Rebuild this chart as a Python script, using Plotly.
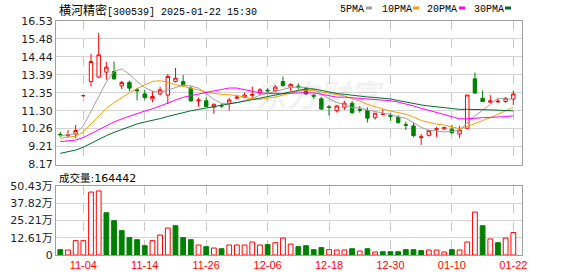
import numpy as np
import plotly.graph_objects as go

# ---------------- data ----------------
dates = ["10-30", "10-31", "11-01", "11-04", "11-05", "11-06", "11-07", "11-08", "11-11", "11-12",
         "11-13", "11-14", "11-15", "11-18", "11-19", "11-20", "11-21", "11-22", "11-25", "11-26",
         "11-27", "11-28", "11-29", "12-02", "12-03", "12-04", "12-05", "12-06", "12-09", "12-10",
         "12-11", "12-12", "12-13", "12-16", "12-17", "12-18", "12-19", "12-20", "12-23", "12-24",
         "12-25", "12-26", "12-27", "12-30", "12-31", "01-02", "01-03", "01-06", "01-07", "01-08",
         "01-09", "01-10", "01-13", "01-14", "01-15", "01-16", "01-17", "01-20", "01-21", "01-22"]

opens = [9.93, 9.85, 9.95, 12.18, 13.00, 13.26, 13.55, 13.59, 12.75, 12.95,
         12.52, 12.28, 11.99, 12.28, 12.21, 13.00, 13.00, 12.62, 11.88, 11.88,
         11.51, 11.62, 11.74, 12.03, 12.09, 12.20, 12.33, 12.50, 12.46, 13.00,
         12.67, 12.74, 12.58, 12.20, 12.00, 11.53, 11.31, 11.51, 11.74, 11.38,
         11.31, 10.90, 11.08, 11.02, 10.93, 10.50, 10.42, 9.74, 9.87, 10.20,
         10.25, 10.23, 9.95, 10.28, 13.16, 12.03, 11.80, 11.82, 11.84, 11.98]
highs = [10.07, 10.18, 10.47, 12.18, 14.62, 15.83, 14.15, 14.17, 13.05, 13.05,
         12.62, 12.52, 12.44, 12.70, 13.44, 13.79, 13.39, 12.74, 12.07, 12.07,
         11.72, 11.72, 12.05, 12.20, 12.35, 12.71, 12.62, 12.62, 12.80, 13.30,
         12.90, 12.90, 12.70, 12.30, 12.10, 11.64, 11.64, 11.88, 11.88, 11.58,
         11.50, 11.16, 11.40, 11.16, 11.05, 10.67, 10.61, 9.95, 10.18, 10.35,
         10.37, 10.48, 10.42, 12.22, 13.53, 12.48, 12.22, 12.00, 12.10, 12.48]
lows = [9.76, 9.76, 9.70, 12.18, 12.71, 13.20, 13.10, 13.10, 12.56, 12.44,
        11.90, 11.94, 11.80, 12.20, 11.70, 12.95, 12.70, 11.82, 11.54, 11.50,
        11.12, 11.47, 11.31, 11.95, 12.03, 12.03, 12.22, 12.30, 12.40, 12.70,
        12.46, 12.55, 12.22, 12.00, 11.35, 11.02, 11.20, 11.35, 11.12, 11.20,
        10.62, 10.78, 11.05, 10.72, 10.55, 10.18, 9.76, 9.31, 9.80, 9.78,
        10.20, 9.95, 9.70, 10.26, 12.30, 11.84, 11.74, 11.76, 11.76, 11.64]
closes = [9.90, 9.91, 10.15, 12.18, 14.17, 14.56, 13.84, 13.16, 12.95, 12.62,
          12.47, 12.07, 12.13, 12.52, 13.30, 13.20, 12.81, 11.88, 11.92, 11.55,
          11.68, 11.58, 11.93, 12.10, 12.22, 12.25, 12.52, 12.46, 12.68, 12.77,
          12.84, 12.68, 12.28, 12.15, 11.40, 11.50, 11.58, 11.74, 11.19, 11.33,
          10.87, 11.16, 11.10, 10.98, 10.62, 10.46, 9.85, 9.78, 10.14, 10.25,
          10.31, 10.03, 10.18, 12.22, 12.33, 11.84, 11.88, 11.86, 12.03, 12.28]
# volume in lots (手)
volumes = [39000, 36500, 105000, 105000, 460000, 468000, 309000, 251000, 178000, 127000,
           112000, 68000, 105000, 146000, 197000, 214000, 127000, 112000, 73000, 61000,
           51000, 46000, 73000, 73000, 73000, 95000, 73000, 76000, 90000, 124000,
           80000, 61000, 68000, 39000, 54000, 39000, 36500, 36500, 46000, 29000,
           46000, 22000, 24000, 24000, 24000, 39000, 39000, 32000, 36500, 36500,
           22000, 39000, 36500, 95000, 314000, 214000, 117000, 90000, 124000, 164442]
# closes before the visible window (not drawn), estimated so the MA lines start where the picture shows them
prior_closes = [7.10, 7.20, 7.25, 7.35, 7.40, 7.50, 7.55, 7.65, 7.70, 7.90,
                8.80, 9.40, 9.20, 9.50, 9.60, 9.30, 9.20, 9.40, 9.35, 9.25,
                9.40, 9.50, 9.60, 9.65, 9.60, 9.65, 9.85, 9.90, 9.95]

price_tick_labels = ["8.17", "9.21", "10.26", "11.30", "12.35", "13.39", "14.44", "15.48", "16.53"]
vol_tick_labels = ["0", "12.61万", "25.21万", "37.82万", "50.43万"]
vol_max = 504300
date_tick_labels = ["11-04", "11-14", "11-26", "12-06", "12-18", "12-30", "01-10", "01-22"]
ma_periods = [5, 10, 20, 30]
ma_names = ["5PMA", "10PMA", "20PMA", "30PMA"]
ma_colors = ["#a0a0a0", "#f0a000", "#ff00ff", "#006b2d"]
title_name = "横河精密"
title_rest = "[300539] 2025-01-22 15:30"
vol_title = "成交量"

# ---------------- figure ----------------
W, H = 578, 276
RED, GREEN = "#ff0000", "#008000"
px_x = lambda v: v / W
px_y = lambda v: (H - v) / H

all_closes = np.array(prior_closes + closes)
n_prior = len(prior_closes)

fig = go.Figure()

for p, name, col in zip(ma_periods, ma_names, ma_colors):
    ma = [all_closes[n_prior + i - p + 1:n_prior + i + 1].mean() for i in range(len(closes))]
    fig.add_trace(go.Scatter(x=dates, y=ma, mode="lines", line=dict(color=col, width=1),
                             xaxis="x", yaxis="y", showlegend=False, hoverinfo="skip"))

fig.add_trace(go.Candlestick(
    x=dates, open=opens, high=highs, low=lows, close=closes,
    increasing=dict(line=dict(color=RED, width=1), fillcolor="#ffffff"),
    decreasing=dict(line=dict(color=GREEN, width=1), fillcolor=GREEN),
    whiskerwidth=0, xaxis="x", yaxis="y", showlegend=False))

prev = [prior_closes[-1]] + closes[:-1]
up = [c >= pc for c, pc in zip(closes, prev)]
fig.add_trace(go.Bar(
    x=dates, y=volumes, width=0.62,
    marker=dict(color=["#ffffff" if u else GREEN for u in up],
                line=dict(color=[RED if u else GREEN for u in up], width=1)),
    xaxis="x2", yaxis="y2", showlegend=False))

xr = [-0.56, 60.13]
xdom = [px_x(56), px_x(522)]
axis_common = dict(showline=True, mirror=True, linecolor="#a0a0a0", linewidth=1,
                   zeroline=False, ticks="", automargin=False)
font_axis = dict(family="DejaVu Sans, Noto Sans CJK SC", size=11, color="#1e1e28")

p_lo, p_hi = float(price_tick_labels[0]), float(price_tick_labels[-1])

fig.update_layout(
    width=W, height=H, margin=dict(l=0, r=0, t=0, b=0),
    paper_bgcolor="#ffffff", plot_bgcolor="#ffffff",
    boxgap=0.36, bargap=0.3,
    xaxis=dict(domain=xdom, anchor="y", type="category", range=xr,
               tickvals=date_tick_labels, showticklabels=False,
               showgrid=True, gridcolor="#c8c8c8", griddash="dash", gridwidth=1,
               rangeslider=dict(visible=False), **axis_common),
    yaxis=dict(domain=[px_y(164.5), px_y(21)], anchor="x", range=[p_lo, p_hi],
               tickvals=list(np.linspace(p_lo, p_hi, len(price_tick_labels))),
               ticktext=price_tick_labels, tickfont=font_axis,
               showgrid=True, gridcolor="#d4d4d4", gridwidth=1, **axis_common),
    xaxis2=dict(domain=xdom, anchor="y2", type="category", range=xr,
                tickvals=date_tick_labels, ticktext=date_tick_labels,
                tickfont=dict(family="Liberation Sans", size=11, color=RED),
                showgrid=True, gridcolor="#c8c8c8", griddash="dash", gridwidth=1,
                **axis_common),
    yaxis2=dict(domain=[px_y(255), px_y(186)], anchor="x2", range=[0, vol_max],
                tickvals=list(np.linspace(0, vol_max, len(vol_tick_labels))),
                ticktext=vol_tick_labels, tickfont=font_axis,
                showgrid=True, gridcolor="#d4d4d4", gridwidth=1, **axis_common),
)

ann = []
ann.append(dict(x=px_x(57), y=px_y(9), xref="paper", yref="paper", xanchor="left", yanchor="middle",
                showarrow=False,
                text=f"<span style='font-family:Noto Sans CJK SC;font-size:12px'>{title_name}</span>{title_rest}",
                font=dict(family="Liberation Mono, Noto Sans CJK SC", size=10, color="#000000")))
ann.append(dict(x=px_x(57), y=px_y(177), xref="paper", yref="paper", xanchor="left", yanchor="middle",
                showarrow=False,
                text=f"<span style='font-family:Noto Sans CJK SC;font-size:10.5px'>{vol_title}</span>:{volumes[-1]}",
                font=dict(family="DejaVu Sans, Noto Sans CJK SC", size=11, color="#000000")))
# watermark
ann.append(dict(x=px_x(320), y=px_y(93), xref="paper", yref="paper", xanchor="center", yanchor="middle",
                showarrow=False, text="<b><i>东方财富</i></b>",
                font=dict(family="Noto Sans CJK SC", size=31, color="rgba(150,150,150,0.13)")))

legend_text_x = [338, 380, 425, 472]
legend_box_x = [366, 413, 459, 505]
shapes = []
for name, col, tx, bx in zip(ma_names, ma_colors, legend_text_x, legend_box_x):
    ann.append(dict(x=px_x(tx), y=px_y(9), xref="paper", yref="paper", xanchor="left", yanchor="middle",
                    showarrow=False, text=name,
                    font=dict(family="Liberation Mono", size=10, color="#000000")))
    shapes.append(dict(type="rect", xref="paper", yref="paper",
                       x0=px_x(bx), x1=px_x(bx + 6), y0=px_y(9.5), y1=px_y(6.5),
                       fillcolor=col, line=dict(width=0)))

fig.update_layout(annotations=ann, shapes=shapes)
fig.write_html("out.html")
